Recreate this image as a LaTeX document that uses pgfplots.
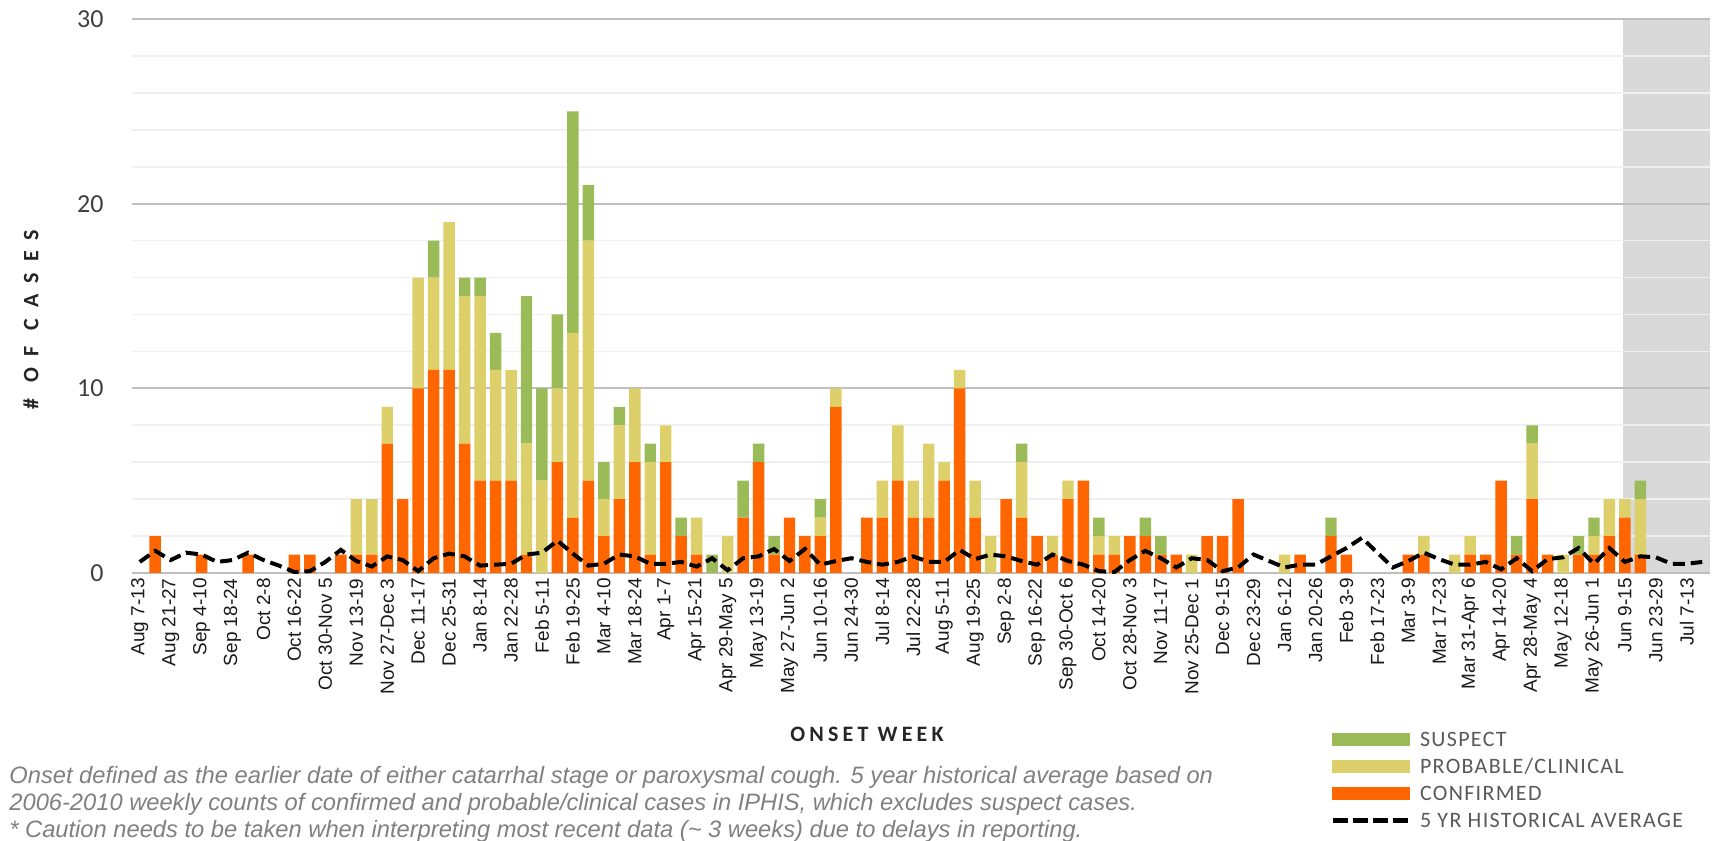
\documentclass[border=0pt]{standalone}
\usepackage{fontspec}
\setmainfont{Carlito}
\newfontfamily\lib{Liberation Sans}
\usepackage{pgfplots}
\pgfplotsset{compat=1.18}
\usepackage{pgfplotstable}

\definecolor{conf}{HTML}{FF6600}
\definecolor{prob}{HTML}{DDCF6A}
\definecolor{susp}{HTML}{9BBB59}
\definecolor{shade}{HTML}{D9D9D9}
\definecolor{gridmaj}{HTML}{BFBFBF}
\definecolor{gridmin}{HTML}{F0F0F0}
\definecolor{ticktext}{HTML}{3F3F3F}
\definecolor{legtext}{HTML}{595959}
\definecolor{note}{HTML}{808080}

% week index, confirmed, probable/clinical, suspect, 5 yr historical average
\pgfplotstableread{
i c p s h
0 0 0 0 0.6
1 2 0 0 1.2
2 0 0 0 0.7
3 0 0 0 1.1
4 1 0 0 1.0
5 0 0 0 0.6
6 0 0 0 0.7
7 1 0 0 1.1
8 0 0 0 0.7
9 0 0 0 0.4
10 1 0 0 0.05
11 1 0 0 0.1
12 0 0 0 0.6
13 1 0 0 1.25
14 1 3 0 0.65
15 1 3 0 0.35
16 7 2 0 0.9
17 4 0 0 0.7
18 10 6 0 0.1
19 11 5 2 0.8
20 11 8 0 1.05
21 7 8 1 0.9
22 5 10 1 0.4
23 5 6 2 0.45
24 5 6 0 0.5
25 1 6 8 1.0
26 0 5 5 1.1
27 6 4 4 1.75
28 3 10 12 1.05
29 5 13 3 0.4
30 2 2 2 0.5
31 4 4 1 1.0
32 6 4 0 0.9
33 1 5 1 0.5
34 6 2 0 0.5
35 2 0 1 0.6
36 1 2 0 0.35
37 0 0 1 0.8
38 0 2 0 0.15
39 3 0 2 0.8
40 6 0 1 0.9
41 1 0 1 1.3
42 3 0 0 0.65
43 2 0 0 1.3
44 2 1 1 0.45
45 9 1 0 0.65
46 0 0 0 0.8
47 3 0 0 0.6
48 3 2 0 0.45
49 5 3 0 0.6
50 3 2 0 0.9
51 3 4 0 0.6
52 5 1 0 0.6
53 10 1 0 1.25
54 3 2 0 0.75
55 0 2 0 1.0
56 4 0 0 0.9
57 3 3 1 0.65
58 2 0 0 0.45
59 1 1 0 1.0
60 4 1 0 0.65
61 5 0 0 0.45
62 1 1 1 0.1
63 1 1 0 0.05
64 2 0 0 0.7
65 2 0 1 1.2
66 1 0 1 0.8
67 1 0 0 0.3
68 0 1 0 0.8
69 2 0 0 0.7
70 2 0 0 0.1
71 4 0 0 0.3
72 0 0 0 1.0
73 0 0 0 0.65
74 0 1 0 0.3
75 1 0 0 0.45
76 0 0 0 0.45
77 2 0 1 0.9
78 1 0 0 1.35
79 0 0 0 1.9
80 0 0 0 1.1
81 0 0 0 0.3
82 1 0 0 0.65
83 1 1 0 1.1
84 0 0 0 0.75
85 0 1 0 0.45
86 1 1 0 0.45
87 1 0 0 0.6
88 5 0 0 0.2
89 1 0 1 0.8
90 4 3 1 0.1
91 1 0 0 0.75
92 0 1 0 0.85
93 1 0 1 1.35
94 1 1 1 0.5
95 2 2 0 1.35
96 3 1 0 0.6
97 1 3 1 0.9
98 0 0 0 0.85
99 0 0 0 0.5
100 0 0 0 0.5
101 0 0 0 0.6
}\weeks

\pgfplotsset{base/.style={
    scale only axis, width=789pt, height=277pt,
    at={(0pt,0pt)}, anchor=south west,
    xmin=-0.5, xmax=101.5, ymin=0, ymax=30,
}}

\begin{document}
\begin{tikzpicture}
\useasboundingbox (-66pt,-134pt) rectangle (794.5pt,286.5pt);

% grid, ticks, labels and the shaded recent weeks
\begin{axis}[base, axis on top,
    axis line style={draw=none},
    major tick length=0pt, minor tick length=0pt,
    ytick={0,10,20,30}, minor y tick num=4,
    ymajorgrids, yminorgrids,
    major grid style={color=gridmaj, line width=1pt},
    minor grid style={color=gridmin, line width=0.8pt},
    /pgf/number format/assume math mode=true,
    yticklabel style={font=\fontsize{13}{13}\selectfont, color=ticktext, inner sep=0pt, xshift=-14pt},
    xtick={0,2,...,100},
    xticklabels={{Aug 7-13},{Aug 21-27},{Sep 4-10},{Sep 18-24},{Oct 2-8},{Oct 16-22},{Oct 30-Nov 5},{Nov 13-19},{Nov 27-Dec 3},{Dec 11-17},{Dec 25-31},{Jan 8-14},{Jan 22-28},{Feb 5-11},{Feb 19-25},{Mar 4-10},{Mar 18-24},{Apr 1-7},{Apr 15-21},{Apr 29-May 5},{May 13-19},{May 27-Jun 2},{Jun 10-16},{Jun 24-30},{Jul 8-14},{Jul 22-28},{Aug 5-11},{Aug 19-25},{Sep 2-8},{Sep 16-22},{Sep 30-Oct 6},{Oct 14-20},{Oct 28-Nov 3},{Nov 11-17},{Nov 25-Dec 1},{Dec 9-15},{Dec 23-29},{Jan 6-12},{Jan 20-26},{Feb 3-9},{Feb 17-23},{Mar 3-9},{Mar 17-23},{Mar 31-Apr 6},{Apr 14-20},{Apr 28-May 4},{May 12-18},{May 26-Jun 1},{Jun 9-15},{Jun 23-29},{Jul 7-13}},
    xticklabel style={yshift=-2.5pt, rotate=90, anchor=east, inner sep=0pt, font=\lib\fontsize{9.5}{9.5}\selectfont, color=black!90},
    xlabel={ONSET WEEK},
    xlabel style={at={(axis description cs:0.4658,-0.2906)}, anchor=center,
        font=\fontsize{11}{11}\selectfont\bfseries\addfontfeature{LetterSpace=19}, color=black!85},
    ylabel={\# OF CASES},
    ylabel style={at={(axis description cs:-0.064,0.4574)}, anchor=center,
        font=\fontsize{11}{11}\selectfont\bfseries\addfontfeature{LetterSpace=50}, color=black!85},
]
\addplot[fill=shade, draw=none] coordinates {(95.85,0) (95.85,30) (101.5,30) (101.5,0)} -- cycle;
\end{axis}

% stacked weekly counts
\begin{axis}[base, hide axis, ybar stacked, bar width=0.74]
\addplot[fill=conf, draw=none] table[x=i, y=c]{\weeks};
\addplot[fill=prob, draw=none] table[x=i, y=p]{\weeks};
\addplot[fill=susp, draw=none] table[x=i, y=s]{\weeks};
\end{axis}

% historical average and legend
\begin{axis}[base, hide axis,
    legend cell align=left,
    legend style={at={(0.7592,-0.2872)}, anchor=north west, draw=none, fill=none,
        inner sep=0pt, outer sep=0pt, row sep=6.3pt,
        font=\fontsize{11}{11}\selectfont\addfontfeature{LetterSpace=6}, text=legtext,
        nodes={inner sep=0pt, text height=7.2pt, text depth=0pt},
        /tikz/every odd column/.append style={column sep=4pt}},
]
\addlegendimage{legend image code/.code={\fill[susp] (0pt,-3pt) rectangle (38.5pt,3pt);}}
\addlegendimage{legend image code/.code={\fill[prob] (0pt,-3pt) rectangle (38.5pt,3pt);}}
\addlegendimage{legend image code/.code={\fill[conf] (0pt,-3pt) rectangle (38.5pt,3pt);}}
\addplot[black, line width=2pt, dash pattern=on 6pt off 3pt,
    legend image code/.code={\draw[black, line width=2.5pt, dash pattern=on 7.5pt off 2.5pt] (0pt,0pt) -- (38.5pt,0pt);}]
    table[x=i, y=h]{\weeks};
\legend{SUSPECT, PROBABLE/CLINICAL, CONFIRMED, 5 YR HISTORICAL AVERAGE}
\end{axis}

\begin{scope}[every node/.style={anchor=base west, inner sep=0pt, text=note, font=\lib\itshape\fontsize{11.85}{11.85}\selectfont}]
\node at (-61.5pt,-105.3pt) {Onset defined as the earlier date of either catarrhal stage or paroxysmal cough. 5 year historical average based on};
\node at (-61.5pt,-118.9pt) {2006-2010 weekly counts of confirmed and probable/clinical cases in IPHIS, which excludes suspect cases.};
\node at (-61.5pt,-132.2pt) {* Caution needs to be taken when interpreting most recent data (\textasciitilde\ 3 weeks) due to delays in reporting.};
\end{scope}
\end{tikzpicture}
\end{document}
